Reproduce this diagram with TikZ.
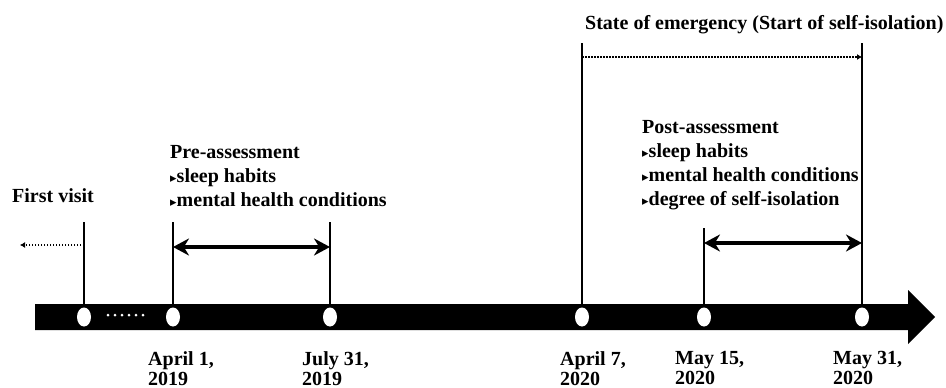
\documentclass[tikz,border=0pt]{standalone}
\usepackage{fontspec}
\setmainfont{Liberation Serif}
\newfontfamily\symfont{DejaVu Sans}
\usetikzlibrary{arrows.meta,shapes.geometric}

% small triangular bullet
\newcommand{\tribul}{{\symfont\fontsize{13}{13}\selectfont ▸}}

\begin{document}
\begin{tikzpicture}[x=1pt,y=-1pt,
    txt/.style={font=\bfseries\fontsize{20}{24}\selectfont, inner sep=0pt, anchor=base west, align=left},
    datetxt/.style={txt, font=\bfseries\fontsize{20}{20}\selectfont, anchor=north west},
    stop/.style={ellipse, fill=white, minimum width=14pt, minimum height=19pt, inner sep=0pt},
    tick/.style={line width=1.5pt},
    span/.style={line width=3.5pt, {Stealth[length=16pt,width=17pt]}-{Stealth[length=16pt,width=17pt]}},
    dots/.style={line width=2pt, dash pattern=on 1.5pt off 1.5pt, -{Latex[length=5pt,width=6pt]}}]
        \useasboundingbox (0,0) rectangle (946,388);

        % draw the time axis
        \fill (35,304) -- (908,304) -- (908,290) -- (935,317)
              -- (908,344) -- (908,330) -- (35,330) -- cycle;

        % tops of the vertical lines
        \foreach \n/\x/\y in {1/84/222, 2/173/222, 3/330/222, 4/582/43, 5/704/228, 6/862/43}
                \coordinate (t\n) at (\x,\y);

        % lines from the top to the axis
        \foreach \n in {1,...,6}
                \draw[tick] (t\n) -- (t\n |- 0,317);

        % dots on the axis
        \foreach \n in {1,...,6}
                \node[stop] (d\n) at (t\n |- 0,317) {};
        \draw[white, line width=3pt, line cap=round, dash pattern=on 0pt off 7pt] (108,315) -- (146,315);

        % the two assessment periods
        \draw[span] (d2 |- 0,247) -- (d3 |- 0,247);
        \draw[span] (d5 |- 0,243) -- (d6 |- 0,243);

        % dotted arrows
        \coordinate (past) at (20,245);
        \draw[dots] (d1 |- 0,245) -- (past);
        \draw[dots] (d4 |- 0,57) -- (d6 |- 0,57);

        % labels above the axis (base sits under the last line)
        \node[txt] (first) at (12,202) {First visit};
        \node[txt] (pre) at (170,206) {Pre-assessment\\\tribul sleep habits\\\tribul mental health conditions};
        \node[txt] (post) at (642,205) {Post-assessment\\\tribul sleep habits\\\tribul mental health conditions\\\tribul degree of self-isolation};
        \node[txt] (soe) at (585,30) {State of emergency (Start of self-isolation)};

        % dates below the axis
        \foreach \n/\x/\txt in {
            2/148/{April 1,\\2019},
            3/302/{July 31,\\2019},
            4/560/{April 7,\\2020},
            5/675/{May 15,\\2020},
            6/833/{May 31,\\2020}}
                \node[datetxt] (date\n) at (\x,351) {\txt};
\end{tikzpicture}
\end{document}
